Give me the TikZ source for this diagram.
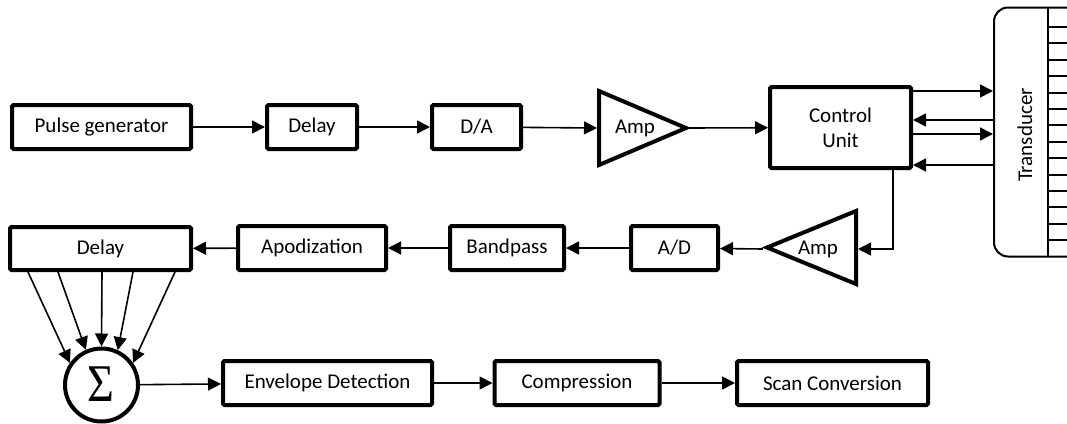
\documentclass[tikz,border=0pt]{standalone}
\usepackage{fontspec}
\setmainfont{Carlito}
\newfontfamily\sigmafont{Liberation Serif}
\usetikzlibrary{arrows.meta,calc}
\begin{document}
\begin{tikzpicture}[x=1pt,y=-1pt,
  blk/.style={draw, line width=4pt, rounded corners=1.5pt, inner sep=0pt,
    font=\fontsize{21}{25}\selectfont, align=center},
  conn/.style={line width=1.6pt, -{Triangle[length=13pt,width=13pt]}},
  ampshape/.style={line width=4pt, line join=miter},
  lbl/.style={font=\fontsize{21}{25}\selectfont, inner sep=0pt},
  thin/.style={line width=2pt}]
\clip (0,0) rectangle (1067,423);

% transmit chain
\node[blk, minimum width=179pt, minimum height=44pt] (pulse)  at (101.5,127) {Pulse generator};
\node[blk, minimum width=90pt,  minimum height=44pt] (delayT) at (312,127)   {Delay};
\node[blk, minimum width=89pt,  minimum height=44pt] (da)     at (476.5,127) {D/A};
\draw[ampshape] (599,91) -- (686,128) -- (599,165) -- cycle;
\node[lbl] (ampT) at (635,128) {Amp};
\coordinate (ampTin)  at (597,128);
\coordinate (ampTout) at (689,128);
\node[blk, minimum width=141pt, minimum height=81pt] (ctrl) at (840.5,127.5) {Control\\Unit};

% transducer
\node[draw, thin, rounded corners=14pt, minimum width=110pt, minimum height=249pt] (trans) at (1049,132) {};
\draw[thin] (1048,8) -- (1048,256);
\foreach \i in {0,...,13}
  \draw[thin] (1048,{27+16.4*\i}) -- (1067,{27+16.4*\i});
\node[lbl, rotate=90] (translbl) at (1025,135) {Transducer};

% receive chain
\draw[ampshape] (856,211) -- (767,247.5) -- (856,284) -- cycle;
\node[lbl] (ampB) at (818,249) {Amp};
\coordinate (ampBin)  at (858,249);
\coordinate (ampBout) at (763,249);
\node[blk, minimum width=87pt,  minimum height=44pt] (ad)     at (674.5,248) {A/D};
\node[blk, minimum width=114pt, minimum height=44pt] (bp)     at (507,248)   {Bandpass};
\node[blk, minimum width=148pt, minimum height=44pt] (apod)   at (312,248)   {Apodization};
\node[blk, minimum width=181pt, minimum height=43pt] (delayB) at (100.5,248.5) {Delay};

% summation and output chain
\node[draw, circle, line width=4pt, minimum size=73pt, inner sep=0pt] (sum) at (101.5,385) {};
\node[inner sep=0pt] (sigma) at (100.5,384.5) {\scalebox{0.87}[1]{\sigmafont\fontsize{53}{53}\selectfont Σ}};
\node[blk, minimum width=209pt, minimum height=44pt] (env)  at (327.5,383) {Envelope Detection};
\node[blk, minimum width=165pt, minimum height=44pt] (comp) at (577,383)   {Compression};
\node[blk, minimum width=191pt, minimum height=44pt] (scan) at (832.5,383) {Scan Conversion};

% connectors
\draw[conn] (pulse) -- (delayT);
\draw[conn] (delayT) -- (da);
\draw[conn] (da) -- (ampTin);
\draw[conn] (ampTout) -- (ctrl);

\coordinate (t1) at (0,91);
\coordinate (t2) at (0,120);
\coordinate (t3) at (0,134);
\coordinate (t4) at (0,165);
\draw[conn] (ctrl.east |- t1) -- (trans.west |- t1);
\draw[conn] (trans.west |- t2) -- (ctrl.east |- t2);
\draw[conn] (ctrl.east |- t3) -- (trans.west |- t3);
\draw[conn] (trans.west |- t4) -- (ctrl.east |- t4);

\coordinate (turn) at (893,249);
\draw[conn] (turn |- ctrl.south) -- (turn) -- (ampBin);
\draw[conn] (ampBout) -- (ad);
\draw[conn] (ad) -- (bp);
\draw[conn] (bp) -- (apod);
\draw[conn] (apod) -- (delayB);

\foreach \dx/\ang in {-72.5/145, -42.5/114, 1.5/90, 32.5/65, 74.5/35}
  \draw[conn] ([xshift=\dx pt]delayB.south) -- (sum.\ang);

\draw[conn] (sum) -- (env);
\draw[conn] (env) -- (comp);
\draw[conn] (comp) -- (scan);
\end{tikzpicture}
\end{document}
